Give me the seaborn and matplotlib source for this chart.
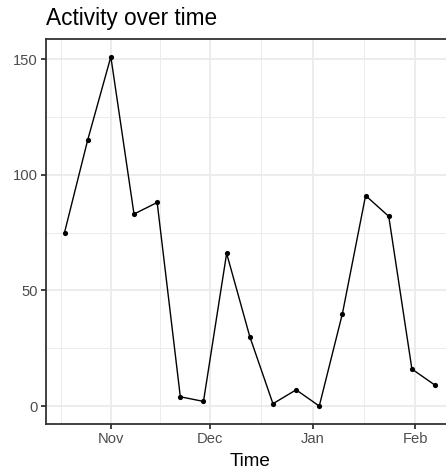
import pandas as pd
import numpy as np
import matplotlib
matplotlib.use('Agg')
import matplotlib.pyplot as plt
import matplotlib.dates as mdates
import seaborn as sns

# weekly activity counts
dates = ['2020-10-18', '2020-10-25', '2020-11-01', '2020-11-08', '2020-11-15',
         '2020-11-22', '2020-11-29', '2020-12-06', '2020-12-13', '2020-12-20',
         '2020-12-27', '2021-01-03', '2021-01-10', '2021-01-17', '2021-01-24',
         '2021-01-31', '2021-02-07']
counts = [75, 115, 151, 83, 88, 4, 2, 66, 30, 1, 7, 0, 40, 91, 82, 16, 9]
month_breaks = ['2020-11-01', '2020-12-01', '2021-01-01', '2021-02-01']
y_breaks = [0, 50, 100, 150]
y_minor = [25, 75, 125]

df = pd.DataFrame({'Time': pd.to_datetime(dates), 'n': counts})

sns.set_style('white')
plt.rcParams['font.family'] = ['Liberation Sans', 'DejaVu Sans']

grey20 = '#333333'
grey30 = '#4D4D4D'
grid_col = '#EBEBEB'

fig = plt.figure(figsize=(4.46, 4.71), dpi=100)
ax = fig.add_axes([46 / 446, 1 - 423.5 / 471, 407.6 / 446, 384.2 / 471])

sns.lineplot(data=df, x='Time', y='n', color='black', linewidth=1.0, ax=ax, zorder=3)
sns.scatterplot(data=df, x='Time', y='n', color='black', s=14, linewidth=0, ax=ax, zorder=4)

# ggplot-like 5% expansion
t0, t1 = mdates.date2num(df.Time.min()), mdates.date2num(df.Time.max())
dx = (t1 - t0) * 0.05
ax.set_xlim(t0 - dx, t1 + dx)
dy = (max(counts) - min(counts)) * 0.05
ax.set_ylim(min(counts) - dy, max(counts) + dy)

majors = mdates.date2num(pd.to_datetime(month_breaks))
first_gap = majors[1] - majors[0]
ext = np.concatenate([[majors[0] - first_gap], majors])
minors = (ext[:-1] + ext[1:]) / 2

ax.set_xticks(majors)
ax.xaxis.set_major_formatter(mdates.DateFormatter('%b'))
ax.set_xticks(minors, minor=True)
ax.set_yticks(y_breaks)
ax.set_yticks(y_minor, minor=True)

ax.grid(which='major', color=grid_col, linewidth=1.3, zorder=0)
ax.grid(which='minor', color=grid_col, linewidth=0.65, zorder=0)
ax.set_axisbelow(True)

for sp in ax.spines.values():
    sp.set_color(grey20)
    sp.set_linewidth(1.3)

ax.tick_params(which='major', direction='out', length=3.4, width=1.3, color=grey20,
               labelcolor=grey30, labelsize=10.6, pad=2.5)
ax.tick_params(which='minor', length=0)
ax.tick_params(axis='both', which='both', bottom=True, left=True)

ax.set_ylabel('')
ax.set_xlabel('Time', fontsize=13.6, color='black', labelpad=5)

fig.text(46 / 446, 1 - 25 / 471, 'Activity over time', fontsize=16.3, color='black',
         ha='left', va='baseline')

fig.savefig('out.png', dpi=100)
